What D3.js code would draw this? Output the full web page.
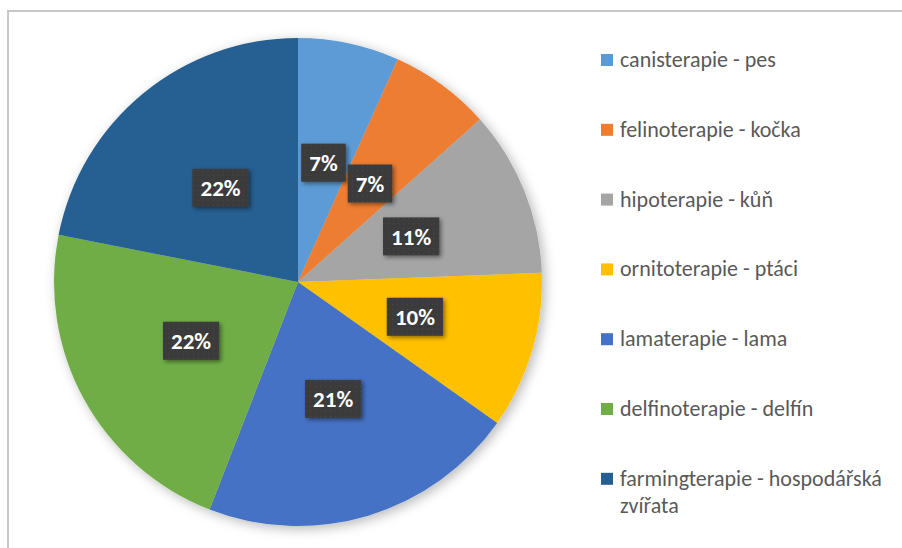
<!DOCTYPE html>
<html>
<head>
<meta charset="utf-8">
<script src="https://cdn.jsdelivr.net/npm/d3@7"></script>
<style>
  html, body { margin: 0; padding: 0; background: #fff; }
  svg { display: block; }
</style>
</head>
<body>
<div id="chart"></div>
<script>
'use strict';

// data (share of each therapy, %)
const categories = [
  "canisterapie - pes",
  "felinoterapie - kočka",
  "hipoterapie - kůň",
  "ornitoterapie - ptáci",
  "lamaterapie - lama",
  "delfinoterapie - delfín",
  "farmingterapie - hospodářská zvířata"
];
const values = [6.7, 6.7, 11.0, 10.4, 21.1, 22.2, 21.9];
const colors = ["#5B9BD5", "#ED7D31", "#A5A5A5", "#FFC000", "#4472C4", "#70AD47", "#255E91"];

const width = 902;
const height = 548;
const cx = 298, cy = 282, radius = 244;
const fontFamily = "Carlito, Calibri, Lato, sans-serif";

const svg = d3.select("#chart")
  .append("svg")
  .attr("width", width)
  .attr("height", height);

const defs = svg.append("defs");

// soft shadow behind the pie
const pieShadow = defs.append("filter")
  .attr("id", "pieShadow")
  .attr("x", "-20%").attr("y", "-20%")
  .attr("width", "140%").attr("height", "140%");
pieShadow.append("feDropShadow")
  .attr("dx", 3).attr("dy", 3)
  .attr("stdDeviation", 6)
  .attr("flood-color", "#000")
  .attr("flood-opacity", 0.28);

// shadow for the label boxes
const boxShadow = defs.append("filter")
  .attr("id", "boxShadow")
  .attr("x", "-30%").attr("y", "-30%")
  .attr("width", "160%").attr("height", "160%");
boxShadow.append("feDropShadow")
  .attr("dx", 2).attr("dy", 2)
  .attr("stdDeviation", 2)
  .attr("flood-color", "#000")
  .attr("flood-opacity", 0.45);

// dotted texture in the label boxes
const dots = defs.append("pattern")
  .attr("id", "dots")
  .attr("width", 5).attr("height", 5)
  .attr("patternUnits", "userSpaceOnUse");
dots.append("rect").attr("width", 5).attr("height", 5).attr("fill", "#3a3a3a");
dots.append("rect").attr("x", 2).attr("y", 2).attr("width", 1).attr("height", 1).attr("fill", "#4d4d4d");

// chart area border (only left/top visible, rest is cropped)
svg.append("rect")
  .attr("x", 8).attr("y", 11)
  .attr("width", 1000).attr("height", 1000)
  .attr("fill", "none")
  .attr("stroke", "#c8c8c8")
  .attr("stroke-width", 2);

const total = d3.sum(values);
const pct = d3.format(".0%");

const pie = d3.pie()
  .sort(null)
  .value(d => d);

const arcs = pie(values);

const arc = d3.arc()
  .innerRadius(0)
  .outerRadius(radius);

const g = svg.append("g")
  .attr("transform", `translate(${cx}, ${cy})`);

g.append("g")
  .attr("filter", "url(#pieShadow)")
  .selectAll("path")
  .data(arcs)
  .enter()
  .append("path")
  .attr("d", arc)
  .attr("fill", (d, i) => colors[i]);

// data labels
const labels = g.append("g")
  .selectAll("g")
  .data(arcs)
  .enter()
  .append("g")
  .attr("transform", d => `translate(${arc.centroid(d)})`);

labels.append("text")
  .attr("text-anchor", "middle")
  .attr("dy", "0.36em")
  .attr("fill", "#fff")
  .attr("font-family", fontFamily)
  .attr("font-weight", "bold")
  .attr("font-size", 23)
  .text(d => pct(d.data / total))
  .each(function(){
    const bbox = this.getBBox();
    const padX = 8;
    const boxH = 38;
    d3.select(this.parentNode)
      .insert("rect", "text")
      .attr("x", -bbox.width / 2 - padX)
      .attr("y", -boxH / 2)
      .attr("width", bbox.width + padX * 2)
      .attr("height", boxH)
      .attr("fill", "url(#dots)")
      .attr("filter", "url(#boxShadow)");
  });

// legend
const legendX = 601;
const legendY0 = 60;
const legendStep = 69.8;
const legendWrap = 285;

const legend = svg.append("g")
  .selectAll("g")
  .data(categories)
  .enter()
  .append("g")
  .attr("transform", (d, i) => `translate(${legendX}, ${legendY0 + legendStep * i})`);

legend.append("rect")
  .attr("x", 0).attr("y", -6)
  .attr("width", 12).attr("height", 12)
  .attr("fill", (d, i) => colors[i]);

legend.append("text")
  .attr("x", 19)
  .attr("y", 7)
  .attr("fill", "#595959")
  .attr("font-family", fontFamily)
  .attr("font-size", 22)
  .each(function(d){
    // wrap long entries onto a second line
    const text = d3.select(this);
    const words = d.split(" ");
    let line = [];
    let tspan = text.append("tspan").attr("x", 19).attr("y", 7);
    let lineNo = 0;
    words.forEach(w => {
      line.push(w);
      tspan.text(line.join(" "));
      if(tspan.node().getComputedTextLength() > legendWrap && line.length > 1){
        line.pop();
        tspan.text(line.join(" "));
        line = [w];
        lineNo++;
        tspan = text.append("tspan")
          .attr("x", 19)
          .attr("y", 7 + lineNo * 27)
          .text(w);
      }
    });
  });
</script>
</body>
</html>
